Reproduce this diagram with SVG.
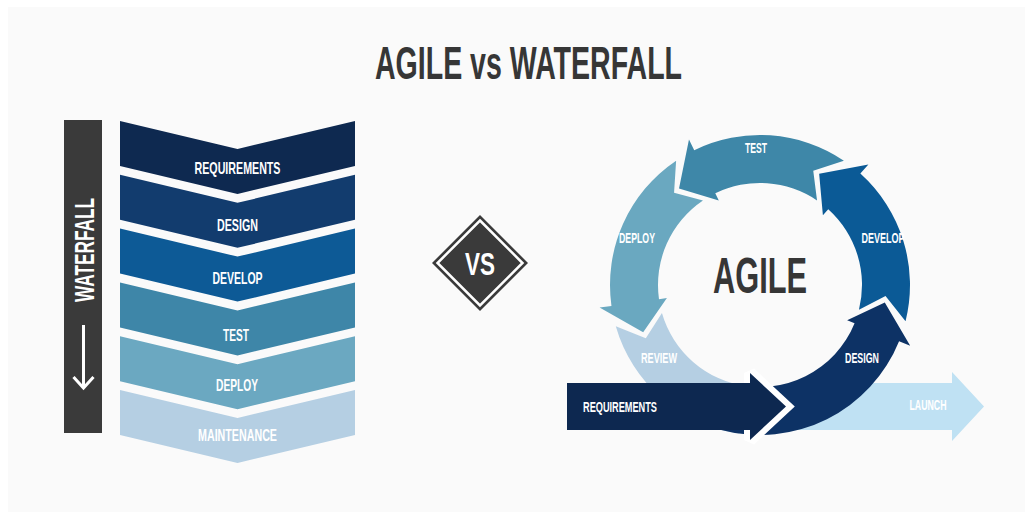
<svg xmlns="http://www.w3.org/2000/svg" width="1033" height="523" viewBox="0 0 1033 523">
<style>
.lbl{font-family:"Liberation Sans",Arial,sans-serif;font-weight:bold;fill:#ffffff;text-anchor:middle}
.w{font-size:17px}
.a{font-size:14px}
.dark{font-family:"Liberation Sans",Arial,sans-serif;font-weight:bold;fill:#363636;text-anchor:middle}
</style>
<rect x="0" y="0" width="1033" height="523" fill="#ffffff"/>
<rect x="8" y="7" width="1017" height="505" fill="#fafafa"/>
<text class="dark" x="528.5" y="79" font-size="47" textLength="307" lengthAdjust="spacingAndGlyphs">AGILE vs WATERFALL</text>

<g id="waterfall-bar">
<rect x="64" y="120" width="38" height="313" fill="#3a3a3a"/>
<text class="lbl" transform="translate(94,250) rotate(-90)" x="0" y="0" font-size="28" textLength="104" lengthAdjust="spacingAndGlyphs">WATERFALL</text>
<line x1="83.5" y1="325" x2="83.5" y2="387" stroke="#ffffff" stroke-width="3"/>
<polyline points="73.5,377 83.5,388 93.5,377" fill="none" stroke="#ffffff" stroke-width="3" stroke-linejoin="miter"/>
</g>

<g id="wf-requirements">
<polygon points="120,121 237.5,149 355,121 355,166 237.5,194 120,166" fill="#0e2950"/>
<text class="lbl w" x="237.5" y="174" textLength="86" lengthAdjust="spacingAndGlyphs">REQUIREMENTS</text>
</g>
<g id="wf-design">
<polygon points="120,174.8 237.5,202.8 355,174.8 355,219.8 237.5,247.8 120,219.8" fill="#123c6e"/>
<text class="lbl w" x="237.5" y="231" textLength="41" lengthAdjust="spacingAndGlyphs">DESIGN</text>
</g>
<g id="wf-develop">
<polygon points="120,228.6 237.5,256.6 355,228.6 355,273.6 237.5,301.6 120,273.6" fill="#0d5a96"/>
<text class="lbl w" x="237.5" y="284" textLength="50" lengthAdjust="spacingAndGlyphs">DEVELOP</text>
</g>
<g id="wf-test">
<polygon points="120,282.4 237.5,310.4 355,282.4 355,327.4 237.5,355.4 120,327.4" fill="#3e86a8"/>
<text class="lbl w" x="236" y="341" textLength="26" lengthAdjust="spacingAndGlyphs">TEST</text>
</g>
<g id="wf-deploy">
<polygon points="120,336.2 237.5,364.2 355,336.2 355,381.2 237.5,409.2 120,381.2" fill="#6ba8c1"/>
<text class="lbl w" x="237" y="391" textLength="42" lengthAdjust="spacingAndGlyphs">DEPLOY</text>
</g>
<g id="wf-maintenance">
<polygon points="120,390 237.5,418 355,390 355,435 237.5,463 120,435" fill="#b5cfe3"/>
<text class="lbl w" x="237.5" y="441" textLength="79" lengthAdjust="spacingAndGlyphs">MAINTENANCE</text>
</g>

<g id="vs">
<polygon points="480,215 528,263 480,311 432,263" fill="#3a3a3a"/>
<polygon points="480,220.5 522.5,263 480,305.5 437.5,263" fill="#3a3a3a" stroke="#ffffff" stroke-width="2.5"/>
<text class="lbl" x="480" y="275" font-size="32" textLength="30" lengthAdjust="spacingAndGlyphs">VS</text>
</g>

<g id="agile-launch">
<polygon points="795,383 952,383 952,372 984,406.5 952,441 952,430 795,430" fill="#bfe1f3"/>
<text class="lbl a" x="928" y="410" textLength="37" lengthAdjust="spacingAndGlyphs">LAUNCH</text>
</g>
<g id="agile-review">
<path d="M615.80,326.34 A150,150 0 0 0 739.12,433.54 L745.80,386.01 A102,102 0 0 1 661.95,313.11 L645.81,338.25 Z" fill="#b5cfe3"/>
<text class="lbl a" x="659" y="363" textLength="36" lengthAdjust="spacingAndGlyphs">REVIEW</text>
</g>
<g id="agile-design">
<path d="M721.18,429.89 A150,150 0 0 0 899.08,341.19 L910.21,345.69 L884.78,302.54 L847.16,320.21 L854.57,323.21 A102,102 0 0 1 733.60,383.53 Z" fill="#0d3265"/>
<text class="lbl a" x="862" y="363" textLength="34" lengthAdjust="spacingAndGlyphs">DESIGN</text>
</g>
<g id="agile-develop">
<path d="M905.54,321.29 A150,150 0 0 0 860.37,173.53 L868.39,164.62 L819.16,173.75 L822.90,215.15 L828.25,209.20 A102,102 0 0 1 858.97,309.68 L885.52,295.98 Z" fill="#0b5a96"/>
<text class="lbl a" x="883" y="243" textLength="43" lengthAdjust="spacingAndGlyphs">DEVELOP</text>
</g>
<g id="agile-test">
<path d="M843.88,160.65 A150,150 0 0 0 694.24,150.18 L688.98,139.39 L679.01,188.48 L718.79,200.51 L715.28,193.32 A102,102 0 0 1 817.04,200.44 L813.25,170.81 Z" fill="#3e87a8"/>
<text class="lbl a" x="756" y="153" textLength="22" lengthAdjust="spacingAndGlyphs">TEST</text>
</g>
<g id="agile-deploy">
<path d="M676.12,160.65 A150,150 0 0 0 611.46,305.88 L599.58,307.55 L643.17,332.20 L666.91,298.08 L658.99,299.20 A102,102 0 0 1 702.96,200.44 L674.07,192.84 Z" fill="#6aa8c0"/>
<text class="lbl a" x="637" y="243" textLength="36" lengthAdjust="spacingAndGlyphs">DEPLOY</text>
</g>
<g id="agile-requirements">
<polygon points="750,373 786,406.5 750,440" fill="#ffffff" stroke="#ffffff" stroke-width="12" stroke-linejoin="miter" stroke-miterlimit="2"/>
<polygon points="567,383 750,383 750,373 786,406.5 750,440 750,430 567,430" fill="#0d2850"/>
<text class="lbl a" x="620" y="412" textLength="74" lengthAdjust="spacingAndGlyphs">REQUIREMENTS</text>
</g>
<g id="agile-center">
<text class="dark" x="760" y="293" font-size="50" textLength="94" lengthAdjust="spacingAndGlyphs">AGILE</text>
</g>
</svg>
